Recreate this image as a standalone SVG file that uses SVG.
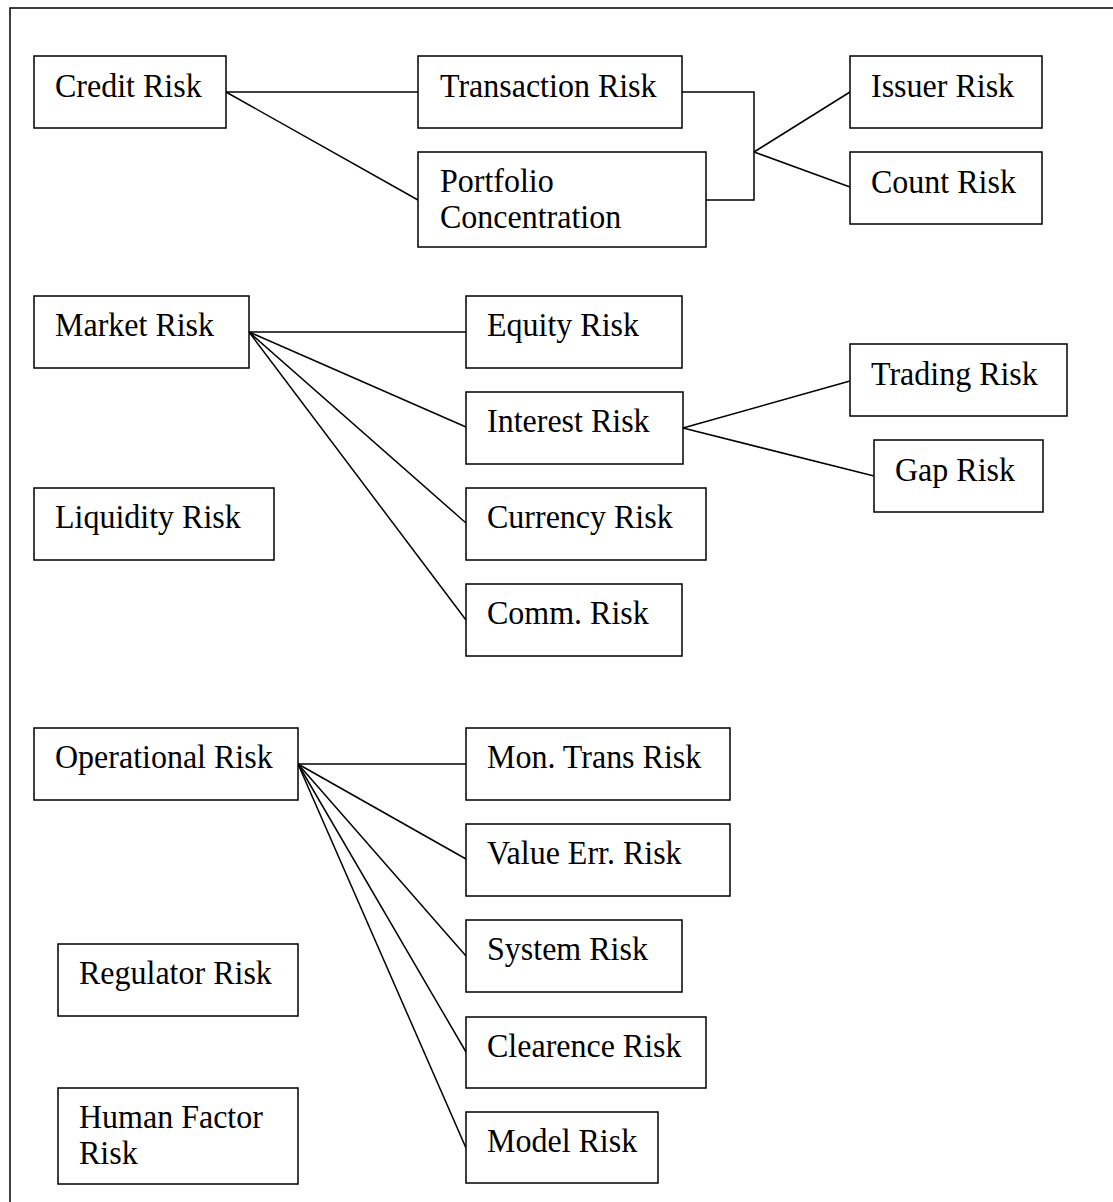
<svg xmlns="http://www.w3.org/2000/svg" width="1113" height="1202" viewBox="0 0 1113 1202">
<style>
.box{fill:#fff;stroke:#000;stroke-width:1.5}
.ln{fill:none;stroke:#000;stroke-width:1.5}
text{font-family:"Liberation Serif","Times New Roman",serif;font-size:32px;fill:#000}
</style>
<rect width="1113" height="1202" fill="#fff"/>
<path class="ln" d="M10,1210 V8 H1120" stroke-width="2.2"/>
<g id="connectors">
<path class="ln" d="M226,92 H418"/>
<path class="ln" d="M226,92 L418,200"/>
<path class="ln" d="M682,92 H754 V200 H706"/>
<path class="ln" d="M754,152 L850,92"/>
<path class="ln" d="M754,152 L850,187"/>
<path class="ln" d="M249,332 H466"/>
<path class="ln" d="M249,332 L466,427"/>
<path class="ln" d="M249,332 L466,523"/>
<path class="ln" d="M249,332 L466,620"/>
<path class="ln" d="M683,428 L850,381"/>
<path class="ln" d="M683,428 L874,476"/>
<path class="ln" d="M298,764 H466"/>
<path class="ln" d="M298,764 L466,859"/>
<path class="ln" d="M298,764 L466,956"/>
<path class="ln" d="M298,764 L466,1052"/>
<path class="ln" d="M298,764 L466,1148"/>
</g>
<g id="credit"><rect class="box" x="34" y="56" width="192" height="72"/><text transform="matrix(1,0,0,1.08,55,97)">Credit Risk</text></g>
<g id="transaction"><rect class="box" x="418" y="56" width="264" height="72"/><text transform="matrix(1,0,0,1.08,440,97)">Transaction Risk</text></g>
<g id="portfolio"><rect class="box" x="418" y="152" width="288" height="95"/><text transform="matrix(1,0,0,1.08,440,192)">Portfolio</text><text transform="matrix(1,0,0,1.08,440,228)">Concentration</text></g>
<g id="issuer"><rect class="box" x="850" y="56" width="192" height="72"/><text transform="matrix(1,0,0,1.08,871,97)">Issuer Risk</text></g>
<g id="count"><rect class="box" x="850" y="152" width="192" height="72"/><text transform="matrix(1,0,0,1.08,871,193)">Count Risk</text></g>
<g id="market"><rect class="box" x="34" y="296" width="215" height="72"/><text transform="matrix(1,0,0,1.08,55,336)">Market Risk</text></g>
<g id="equity"><rect class="box" x="466" y="296" width="216" height="72"/><text transform="matrix(1,0,0,1.08,487,336)">Equity Risk</text></g>
<g id="interest"><rect class="box" x="466" y="392" width="217" height="72"/><text transform="matrix(1,0,0,1.08,487,432)">Interest Risk</text></g>
<g id="currency"><rect class="box" x="466" y="488" width="240" height="72"/><text transform="matrix(1,0,0,1.08,487,528)">Currency Risk</text></g>
<g id="comm"><rect class="box" x="466" y="584" width="216" height="72"/><text transform="matrix(1,0,0,1.08,487,624)">Comm. Risk</text></g>
<g id="liquidity"><rect class="box" x="34" y="488" width="240" height="72"/><text transform="matrix(1,0,0,1.08,55,528)">Liquidity Risk</text></g>
<g id="trading"><rect class="box" x="850" y="344" width="217" height="72"/><text transform="matrix(1,0,0,1.08,871,385)">Trading Risk</text></g>
<g id="gap"><rect class="box" x="874" y="440" width="169" height="72"/><text transform="matrix(1,0,0,1.08,895,481)">Gap Risk</text></g>
<g id="operational"><rect class="box" x="34" y="728" width="264" height="72"/><text transform="matrix(1,0,0,1.08,55,768)">Operational Risk</text></g>
<g id="montrans"><rect class="box" x="466" y="728" width="264" height="72"/><text transform="matrix(1,0,0,1.08,487,768)">Mon. Trans Risk</text></g>
<g id="valueerr"><rect class="box" x="466" y="824" width="264" height="72"/><text transform="matrix(1,0,0,1.08,487,864)">Value Err. Risk</text></g>
<g id="system"><rect class="box" x="466" y="920" width="216" height="72"/><text transform="matrix(1,0,0,1.08,487,960)">System Risk</text></g>
<g id="clearence"><rect class="box" x="466" y="1017" width="240" height="71"/><text transform="matrix(1,0,0,1.08,487,1057)">Clearence Risk</text></g>
<g id="model"><rect class="box" x="466" y="1112" width="192" height="71"/><text transform="matrix(1,0,0,1.08,487,1152)">Model Risk</text></g>
<g id="regulator"><rect class="box" x="58" y="944" width="240" height="72"/><text transform="matrix(1,0,0,1.08,79,984)">Regulator Risk</text></g>
<g id="human"><rect class="box" x="58" y="1088" width="240" height="96"/><text transform="matrix(1,0,0,1.08,79,1128)">Human Factor</text><text transform="matrix(1,0,0,1.08,79,1164)">Risk</text></g>
</svg>
